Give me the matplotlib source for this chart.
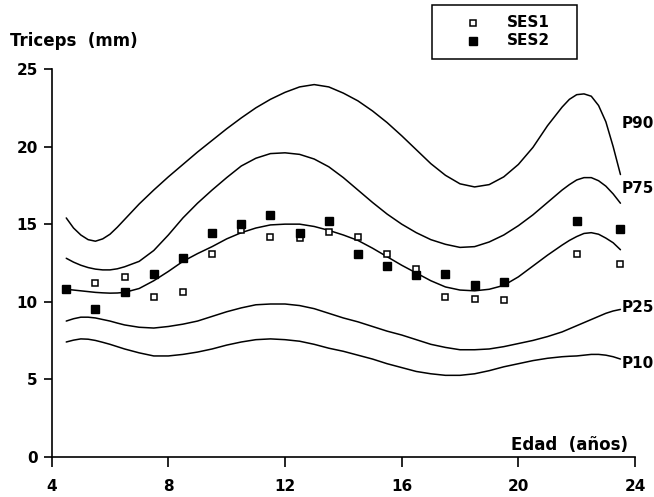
import matplotlib
matplotlib.use('Agg')
import matplotlib.pyplot as plt
from matplotlib.lines import Line2D
from matplotlib.patches import Rectangle

plt.rcParams['font.family'] = ['DejaVu Sans']
plt.rcParams['font.weight'] = 'bold'

# ages for the smoothed percentile curves (finer steps where they bend hard)
ages = [4.5, 4.75, 5.0, 5.25, 5.5, 5.75, 6.0, 6.25, 6.5,
        7.0, 7.5, 8.0, 8.5, 9.0, 9.5, 10.0, 10.5, 11.0, 11.5, 12.0, 12.5,
        13.0, 13.5, 14.0, 14.5, 15.0, 15.5, 16.0, 16.5, 17.0, 17.5, 18.0,
        18.5, 19.0, 19.5, 20.0, 20.5, 21.0,
        21.5, 21.75, 22.0, 22.25, 22.5, 22.75, 23.0, 23.25, 23.5]

p90 = [15.4, 14.75, 14.3, 14.0, 13.9, 14.05, 14.35, 14.8, 15.3,
       16.3, 17.2, 18.05, 18.85, 19.65, 20.4, 21.15, 21.85, 22.5, 23.05,
       23.5, 23.85, 24.0, 23.85, 23.45, 22.95, 22.3, 21.55, 20.7, 19.8, 18.9,
       18.15, 17.6, 17.4, 17.55, 18.05, 18.85, 19.95, 21.35,
       22.55, 23.05, 23.35, 23.4, 23.25, 22.65, 21.6, 20.0, 18.2]
p75 = [12.8, 12.55, 12.35, 12.2, 12.1, 12.05, 12.05, 12.12, 12.25,
       12.6, 13.3, 14.3, 15.4, 16.35, 17.2, 18.0, 18.75, 19.25, 19.55, 19.6,
       19.5, 19.2, 18.7, 18.0, 17.2, 16.4, 15.65, 15.0, 14.45, 14.0, 13.7,
       13.5, 13.55, 13.85, 14.3, 14.9, 15.6, 16.4,
       17.2, 17.55, 17.85, 18.0, 18.0, 17.8, 17.45, 16.95, 16.35]
p50 = [10.8, 10.75, 10.7, 10.65, 10.6, 10.57, 10.55, 10.56, 10.6,
       10.85, 11.35, 11.95, 12.6, 13.1, 13.55, 14.05, 14.45, 14.75, 14.95,
       15.0, 15.0, 14.85, 14.6, 14.3, 13.95, 13.45, 12.9, 12.35, 11.85, 11.35,
       10.95, 10.75, 10.7, 10.8, 11.05, 11.6, 12.3, 13.0,
       13.65, 13.95, 14.2, 14.4, 14.45, 14.35, 14.1, 13.8, 13.35]
p25 = [8.75, 8.9, 9.0, 9.0, 8.95, 8.85, 8.75, 8.62, 8.5,
       8.35, 8.3, 8.4, 8.55, 8.75, 9.05, 9.35, 9.6, 9.8, 9.85, 9.85, 9.75,
       9.55, 9.25, 8.95, 8.7, 8.4, 8.1, 7.85, 7.55, 7.25, 7.05, 6.9, 6.9,
       6.95, 7.1, 7.3, 7.5, 7.75,
       8.05, 8.25, 8.45, 8.65, 8.85, 9.05, 9.25, 9.4, 9.5]
p10 = [7.4, 7.52, 7.6, 7.58, 7.5, 7.38, 7.25, 7.1, 6.95,
       6.7, 6.5, 6.5, 6.6, 6.75, 6.95, 7.2, 7.4, 7.55, 7.6, 7.55, 7.45,
       7.25, 7.0, 6.8, 6.55, 6.3, 6.0, 5.75, 5.5, 5.35, 5.25, 5.25, 5.35,
       5.55, 5.8, 6.0, 6.2, 6.35,
       6.45, 6.48, 6.5, 6.55, 6.6, 6.6, 6.55, 6.45, 6.3]

# observed means
ses1_age = [5.5, 6.5, 7.5, 8.5, 9.5, 10.5, 11.5, 12.5, 13.5, 14.5, 15.5,
            16.5, 17.5, 18.5, 19.5, 22.0, 23.5]
ses1 = [11.2, 11.6, 10.3, 10.6, 13.1, 14.6, 14.2, 14.1, 14.5, 14.2, 13.1,
        12.1, 10.3, 10.2, 10.1, 13.1, 12.4]
ses2_age = [4.5, 5.5, 6.5, 7.5, 8.5, 9.5, 10.5, 11.5, 12.5, 13.5, 14.5, 15.5,
            16.5, 17.5, 18.5, 19.5, 22.0, 23.5]
ses2 = [10.8, 9.5, 10.6, 11.8, 12.8, 14.4, 15.0, 15.6, 14.4, 15.2, 13.1,
        12.3, 11.7, 11.8, 11.1, 11.3, 15.2, 14.7]

labels = {'P90': 21.5, 'P75': 17.3, 'P25': 9.6, 'P10': 6.0}
series_names = ['SES1', 'SES2']

fig = plt.figure(figsize=(6.54, 4.97), dpi=100)
ax = fig.add_axes([0.079, 0.081, 0.892, 0.780])

for curve in (p90, p75, p50, p25, p10):
    ax.plot(ages, curve, color='black', lw=1.1, solid_joinstyle='round',
            solid_capstyle='round', zorder=2)

open_style = dict(ls='none', marker='s', ms=5, mfc='white', mec='black',
                  mew=1.1)
fill_style = dict(ls='none', marker='s', ms=5.5, mfc='black', mec='black')

ax.plot(ses1_age, ses1, zorder=3, **open_style)
ax.plot(ses2_age, ses2, zorder=3, **fill_style)

for name, y in labels.items():
    ax.text(23.55, y, name, fontsize=11, fontweight='bold', va='center',
            ha='left', clip_on=False)

ax.set_xlim(4, 24)
ax.set_ylim(0, 25)
ax.set_xticks([4, 8, 12, 16, 20, 24])
ax.set_yticks([0, 5, 10, 15, 20, 25])
for side in ('top', 'right'):
    ax.spines[side].set_visible(False)
for side in ('left', 'bottom'):
    ax.spines[side].set_linewidth(1.2)
ax.tick_params(axis='y', length=6, width=1.2, pad=4, labelsize=11)
ax.tick_params(axis='x', length=7, width=1.2, pad=9, labelsize=11)

fig.text(0.015, 0.917, 'Triceps  (mm)', fontsize=12, fontweight='bold',
         va='center', ha='left')
ax.text(0.988, 0.03, 'Edad  (años)', transform=ax.transAxes, fontsize=12,
        fontweight='bold', va='center', ha='right')

# legend box drawn by hand, sitting above the plot area
fig.add_artist(Rectangle((0.661, 0.881), 0.221, 0.109, transform=fig.transFigure,
                         fill=False, edgecolor='black', lw=1.1))
for i, (name, style) in enumerate(zip(series_names, (open_style, fill_style))):
    ypos = 0.954 - i * 0.036
    fig.add_artist(Line2D([0.7232], [ypos], transform=fig.transFigure, **style))
    fig.text(0.7752, ypos, name, fontsize=11, fontweight='bold', va='center',
             ha='left')

fig.savefig('out.png', dpi=100)
